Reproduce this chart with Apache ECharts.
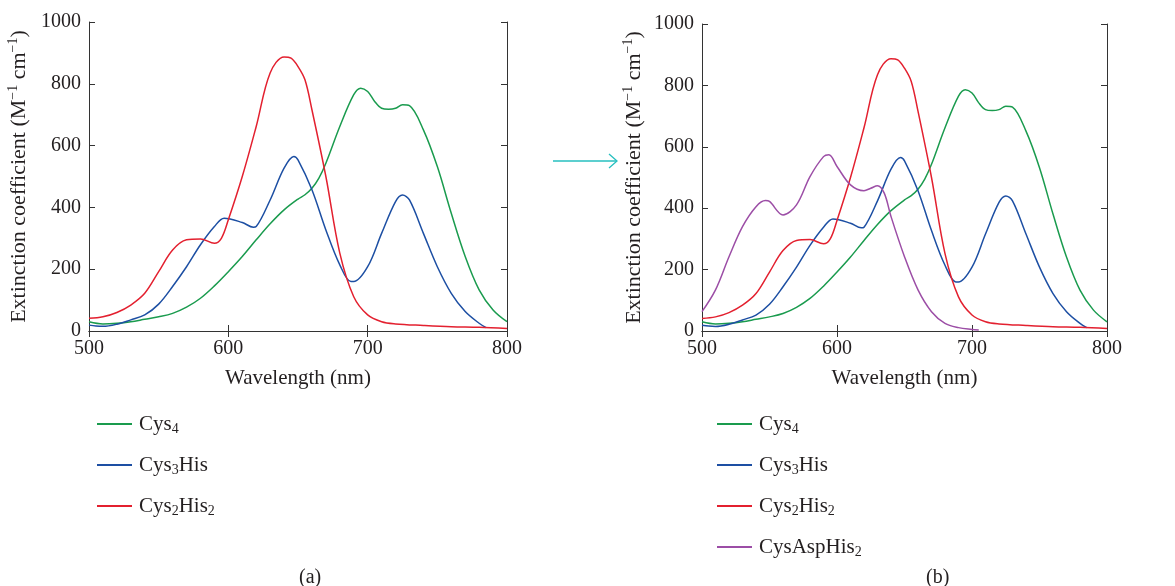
<!DOCTYPE html>
<html>
<head>
<meta charset="utf-8">
<script src="https://cdn.jsdelivr.net/npm/echarts@6/dist/echarts.min.js"></script>
<style>
html,body{margin:0;padding:0;background:#fff;}
#c{width:1175px;height:586px;}
</style>
</head>
<body>
<div id="c"></div>
<script>
// ---- Data ----
const xTicks = [500, 600, 700, 800];
const yTicks = [0, 200, 400, 600, 800, 1000];

const cys4X = [500,510,520,530,540,550,560,570,580,590,600,610,620,630,640,650,655,660,665,670,680,690,695,700,705,710,715,720,725,730,740,750,760,770,780,790,800];
const cys4Y = [30,23,25,30,38,46,57,77,106,146,192,241,295,347,392,427,441,462,495,543,662,765,786,775,743,721,718,721,732,729,651,532,381,241,133,68,30];

const cys3HisX = [500,505,510,520,530,540,550,560,570,580,590,597,610,618,620,630,640,647,650,660,670,680,688,690,700,710,720,725,730,740,750,760,770,780,785];
const cys3HisY = [19,16,15,22,36,52,87,144,208,279,338,365,351,336,338,424,527,565,554,457,327,214,160,160,208,316,419,440,424,316,208,122,63,25,11];

const cys2His2X = [500,510,520,530,540,550,560,570,580,590,595,600,610,620,630,640,645,650,655,660,670,680,690,700,710,720,740,760,780,800];
const cys2His2Y = [41,46,60,84,122,192,262,295,298,284,300,360,500,662,835,887,883,856,813,716,500,252,111,52,30,23,18,14,12,8];

const cysAspHis2X = [500,510,520,530,540,547,550,560,570,580,590,594,600,610,620,625,630,635,640,650,660,670,680,690,700,705];
const cysAspHis2Y = [63,134,242,340,405,425,422,378,411,503,568,574,536,476,457,465,473,449,373,242,134,63,25,11,5,3];

const panelA = ['Cys4', 'Cys3His', 'Cys2His2'];
const panelB = ['Cys4', 'Cys3His', 'Cys2His2', 'CysAspHis2'];
const legendRich = {
  'Cys4': '{n|Cys}{s|4}',
  'Cys3His': '{n|Cys}{s|3}{n|His}',
  'Cys2His2': '{n|Cys}{s|2}{n|His}{s|2}',
  'CysAspHis2': '{n|CysAspHis}{s|2}'
};
const colors = {
  'Cys4': '#1a9b4e',
  'Cys3His': '#1d4fa3',
  'Cys2His2': '#e3202f',
  'CysAspHis2': '#9c4ea6'
};
const seriesData = {
  'Cys4': [cys4X, cys4Y],
  'Cys3His': [cys3HisX, cys3HisY],
  'Cys2His2': [cys2His2X, cys2His2Y],
  'CysAspHis2': [cysAspHis2X, cysAspHis2Y]
};

// ---- Styles ----
const FONT = 'Liberation Serif';
const TXT = '#231f20';
const AX = '#333333';

function pairs(xs, ys) { return xs.map((x, i) => [x, ys[i]]); }

function mainX(gi) {
  return {
    type: 'value', gridIndex: gi, position: 'bottom', min: 500, max: 800, interval: 100,
    name: 'Wavelength (nm)', nameLocation: 'middle', nameGap: 37,
    nameTextStyle: { fontFamily: FONT, fontSize: 21, color: TXT },
    axisLine: { show: true, lineStyle: { color: AX, width: 1 } },
    axisTick: { inside: true, length: 6, lineStyle: { color: AX } },
    axisLabel: { fontFamily: FONT, fontSize: 20, color: TXT, margin: 8,
      formatter: v => xTicks.includes(v) ? String(v) : '' },
    splitLine: { show: false }
  };
}
function boxX(gi) {
  return {
    type: 'value', gridIndex: gi, position: 'top', min: 500, max: 800, interval: 100,
    axisLine: { show: true, lineStyle: { color: AX, width: 1 } },
    axisTick: { inside: true, length: 6, lineStyle: { color: AX } },
    axisLabel: { show: false }, splitLine: { show: false }
  };
}
function mainY(gi, gap) {
  return {
    type: 'value', gridIndex: gi, position: 'left', min: 0, max: 1000, interval: 200,
    name: '{n|Extinction coefficient (M}{p|−1}{n| cm}{p|−1}{n|)}',
    nameLocation: 'middle', nameGap: gap, nameRotate: 90,
    nameTextStyle: { fontFamily: FONT, fontSize: 22, color: TXT,
      rich: {
        n: { fontFamily: FONT, fontSize: 22, color: TXT, lineHeight: 24 },
        p: { fontFamily: FONT, fontSize: 14, color: TXT, lineHeight: 24, padding: [0, 0, 11, 0] }
      } },
    axisLine: { show: true, lineStyle: { color: AX, width: 1 } },
    axisTick: { inside: true, length: 6, lineStyle: { color: AX } },
    axisLabel: { fontFamily: FONT, fontSize: 20, color: TXT, margin: 8,
      formatter: v => yTicks.includes(v) ? String(v) : '' },
    splitLine: { show: false }
  };
}
function boxY(gi) {
  return {
    type: 'value', gridIndex: gi, position: 'right', min: 0, max: 1000, interval: 200,
    axisLine: { show: true, lineStyle: { color: AX, width: 1 } },
    axisTick: { inside: true, length: 6, lineStyle: { color: AX } },
    axisLabel: { show: false }, splitLine: { show: false }
  };
}

function makeSeries(names, xi, yi) {
  return names.map(n => ({
    name: n, type: 'line', xAxisIndex: xi, yAxisIndex: yi,
    data: pairs(seriesData[n][0], seriesData[n][1]),
    smooth: 0.35, symbol: 'none', showSymbol: false,
    lineStyle: { color: colors[n], width: 1.5 }, itemStyle: { color: colors[n] },
    silent: true, animation: false
  }));
}

function makeLegend(names, left) {
  return {
    orient: 'vertical', left: left, top: 407, itemGap: 17,
    icon: 'rect', itemWidth: 35, itemHeight: 2,
    data: names.map(n => ({ name: n, itemStyle: { color: colors[n] } })),
    selectedMode: false,
    formatter: n => legendRich[n],
    textStyle: {
      fontFamily: FONT, fontSize: 21, color: TXT, padding: [0, 0, 0, 2],
      rich: {
        n: { fontFamily: FONT, fontSize: 21, color: TXT, lineHeight: 24 },
        s: { fontFamily: FONT, fontSize: 14, color: TXT, lineHeight: 24, padding: [10, 0, 0, 0] }
      }
    }
  };
}

const chart = echarts.init(document.getElementById('c'), null, { renderer: 'canvas' });
chart.setOption({
  backgroundColor: '#ffffff',
  animation: false,
  grid: [
    { left: 89, top: 22, width: 418, height: 309 },
    { left: 702, top: 24, width: 405, height: 307 }
  ],
  xAxis: [mainX(0), boxX(0), mainX(1), boxX(1)],
  yAxis: [mainY(0, 58), boxY(0), mainY(1, 56), boxY(1)],
  legend: [makeLegend(panelA, 92), makeLegend(panelB, 712)],
  title: [
    { text: '(a)', left: 294, top: 563, textStyle: { fontFamily: FONT, fontSize: 20, fontWeight: 'normal', color: TXT } },
    { text: '(b)', left: 921, top: 563, textStyle: { fontFamily: FONT, fontSize: 20, fontWeight: 'normal', color: TXT } }
  ],
  graphic: [
    { type: 'line', shape: { x1: 553, y1: 161, x2: 617, y2: 161 }, style: { stroke: '#26bfbf', lineWidth: 1.3 } },
    { type: 'polyline', shape: { points: [[609, 154], [617, 161], [609, 168]] }, style: { stroke: '#26bfbf', lineWidth: 1.3, fill: null } }
  ],
  series: [...makeSeries(panelA, 0, 0), ...makeSeries(panelB, 2, 2)]
});
</script>
</body>
</html>
